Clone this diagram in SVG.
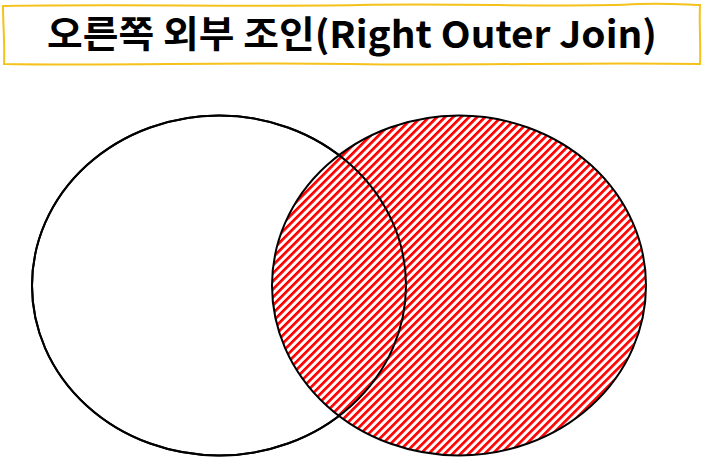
<svg xmlns="http://www.w3.org/2000/svg" width="703" height="457" viewBox="0 0 703 457">
  <defs>
    <pattern id="hatch" patternUnits="userSpaceOnUse" width="5.66" height="8" patternTransform="rotate(45)">
      <rect width="5.66" height="8" fill="#ffffff"/>
      <rect x="0" y="0" width="2.7" height="8" fill="#ff0000"/>
    </pattern>
    <style>
      .set { stroke: #000000; stroke-width: 2; }
      .title { font-family: "Noto Sans CJK KR", "Noto Sans", sans-serif; font-weight: bold; font-size: 37px; fill: #000000; }
      .frame { fill: #ffffff; stroke: #f5c21b; stroke-width: 2; }
    </style>
  </defs>
  <rect width="703" height="457" fill="#ffffff"/>
  <g id="title">
    <path class="frame" d="M3 6 C 120 4, 240 7, 360 5 C 470 3, 560 8, 640 4 C 670 3, 690 5, 700 5 C 699 25, 701 45, 700 64 C 580 62, 470 66, 350 64 C 230 62, 110 66, 4 64 C 5 45, 3 25, 3 6 Z"/>
    <text class="title" x="352" y="48" text-anchor="middle" textLength="610" lengthAdjust="spacingAndGlyphs">오른쪽 외부 조인(Right Outer Join)</text>
  </g>
  <g id="left-set">
    <ellipse class="set" cx="219" cy="285.5" rx="187" ry="170" fill="#ffffff"/>
  </g>
  <g id="right-set">
    <ellipse class="set" cx="459" cy="285.5" rx="187" ry="170" fill="url(#hatch)"/>
  </g>
  <g id="left-outline">
    <ellipse cx="219" cy="285.5" rx="187" ry="170" fill="none" stroke="#000000" stroke-width="2"/>
  </g>
  <g id="connectors"></g>
</svg>
